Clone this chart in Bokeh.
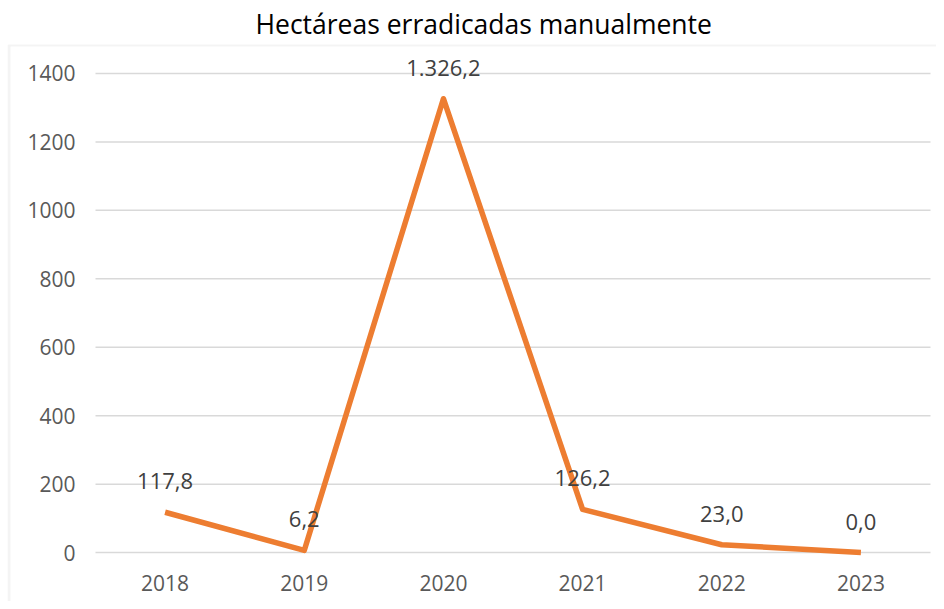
from bokeh.plotting import figure
from bokeh.models import ColumnDataSource, LabelSet, FixedTicker, Range1d, BoxAnnotation
from bokeh.embed import file_html
from bokeh.resources import INLINE
from bokeh.core.properties import value

years = ["2018", "2019", "2020", "2021", "2022", "2023"]
hectares = [117.8, 6.2, 1326.2, 126.2, 23.0, 0.0]
y_ticks = [0, 200, 400, 600, 800, 1000, 1200, 1400]
title_text = "Hectáreas erradicadas manualmente"


def es_format(v):
    s = f"{v:,.1f}"
    return s.replace(",", "X").replace(".", ",").replace("X", ".")


labels = [es_format(v) for v in hectares]
idx = list(range(len(years)))

# layout constants (pixels on the canvas)
W, H = 936, 601
FL, FT = 7, 43            # frame (chart box) left / top
PL, PR = 95, 930          # plot area left / right
Y0, Y1400 = 552, 72       # pixel rows of y=0 and y=1400
slot = (PR - PL) / len(years)
ppu = (Y0 - Y1400) / 1400.0

x_start = -0.5 - (PL - FL) / slot
x_end = len(years) - 0.5 + (W - PR) / slot
y_start = -(H - Y0) / ppu
y_end = (Y0 - FT) / ppu

src = ColumnDataSource(dict(x=idx, year=years, ha=hectares, label=labels))

p = figure(
    width=W, height=H,
    x_range=Range1d(x_start, x_end), y_range=Range1d(y_start, y_end),
    output_backend="svg", toolbar_location=None,
    min_border_left=FL, min_border_right=0,
    min_border_top=FT, min_border_bottom=0,
    background_fill_color="white", border_fill_color="white",
)

p.title.text = title_text
p.title.align = "left"
p.title.offset = 248
p.title.text_font = "Open Sans"
p.title.text_font_size = "26.5px"
p.title.text_font_style = "normal"
p.title.text_color = "#000000"
p.title.standoff = 6

p.outline_line_color = None
p.xgrid.grid_line_color = None
p.ygrid.grid_line_color = None

# horizontal gridlines across the plot area
p.segment(x0=-0.5, x1=len(years) - 0.5, y0=y_ticks, y1=y_ticks,
          line_color="#D9D9D9", line_width=1.5)

p.xaxis.ticker = FixedTicker(ticks=idx)
p.xaxis.major_label_overrides = {i: y for i, y in zip(idx, years)}
p.xaxis.fixed_location = 0
p.yaxis.ticker = FixedTicker(ticks=y_ticks)
p.yaxis.fixed_location = -0.5

for ax in (p.xaxis, p.yaxis):
    ax.axis_line_color = None
    ax.major_tick_line_color = None
    ax.minor_tick_line_color = None
    ax.major_label_text_font = "Open Sans"
    ax.major_label_text_font_size = "21px"
    ax.major_label_text_color = "#595959"
p.yaxis.major_label_standoff = 14
p.xaxis.major_label_standoff = 16

p.line(x="x", y="ha", source=src, line_color="#ED7D31", line_width=5.5,
       line_join="round")

p.add_layout(LabelSet(x="x", y="ha", text="label", source=src,
                      y_offset=31, text_align="center", text_baseline="middle",
                      text_font=value("Open Sans"), text_font_size="22px",
                      text_color="#404040"))

p.add_layout(BoxAnnotation(left=8.5, right=2000, top=44.5, bottom=2000,
                           left_units="canvas", right_units="canvas",
                           top_units="canvas", bottom_units="canvas",
                           fill_alpha=0, fill_color=None,
                           line_color="#D9D9D9", line_width=3))

open("out.html", "w").write(file_html(p, INLINE))
